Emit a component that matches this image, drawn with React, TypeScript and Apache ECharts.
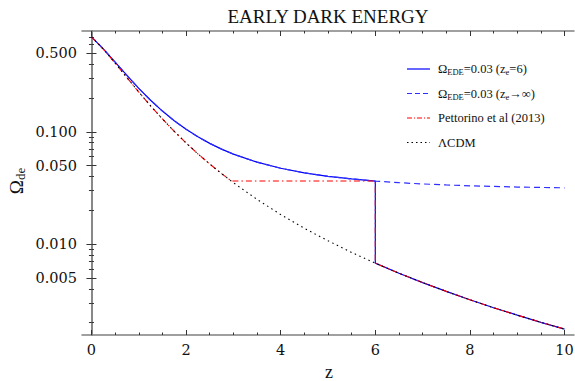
import React, { useEffect, useRef } from 'react';
import * as echarts from 'echarts';

// redshift grid
const zValues = [0, 0.25, 0.5, 0.75, 1, 1.25, 1.5, 1.75, 2, 2.25, 2.5, 2.75, 3, 3.5, 4, 4.5, 5, 5.5, 6, 6.5, 7, 7.5, 8, 8.5, 9, 9.5, 10];
// LambdaCDM dark-energy density
const lcdmValues = [0.700, 0.544, 0.409, 0.303, 0.226, 0.170, 0.130, 0.1009, 0.0795, 0.0636, 0.0516, 0.0424, 0.0352, 0.0250, 0.0183, 0.0138, 0.0107, 0.00842, 0.00676, 0.00550, 0.00454, 0.00379, 0.00319, 0.00271, 0.00233, 0.00201, 0.00175];
// Early dark energy (Omega_EDE = 0.03)
const edeValues = [0.700, 0.5476, 0.4175, 0.3171, 0.2436, 0.1908, 0.1528, 0.1253, 0.1052, 0.0901, 0.0788, 0.0700, 0.0632, 0.0536, 0.0473, 0.0431, 0.0401, 0.0380, 0.0364, 0.0352, 0.0343, 0.0336, 0.0330, 0.0326, 0.0322, 0.0319, 0.0317];
const transitionZ = 6;
const pettorinoStartZ = 2.96;
const pettorinoPlateau = 0.0364;

const xMajorTicks = [0, 2, 4, 6, 8, 10];
const xMinorTicks = [0.5, 1, 1.5, 2.5, 3, 3.5, 4.5, 5, 5.5, 6.5, 7, 7.5, 8.5, 9, 9.5];
const yMajorTicks = [0.005, 0.01, 0.05, 0.1, 0.5];
const yMinorTicks = [0.002, 0.003, 0.004, 0.006, 0.007, 0.008, 0.009, 0.02, 0.03, 0.04, 0.06, 0.07, 0.08, 0.09, 0.2, 0.3, 0.4, 0.6, 0.7];

const titleText = 'EARLY DARK ENERGY';
const legendTexts = [
  '{m|Ω}{s|EDE}{m|=0.03 (z}{s|e}{m|=6)}',
  '{m|Ω}{s|EDE}{m|=0.03 (z}{s|e}{m|→∞)}',
  '{m|Pettorino et al (2013)}',
  '{m|ΛCDM}',
];

const SERIF = "'Liberation Serif', serif";
const TICKFONT = "'DejaVu Serif', serif";
const FRAME = '#808080';

export default function App() {
  const ref = useRef<HTMLDivElement>(null);
  useEffect(() => {
    if (!ref.current) return;
    const chart = echarts.init(ref.current, null, { renderer: 'svg' });

    const pairs = zValues.map((z, i) => ({ z, l: lcdmValues[i], e: edeValues[i] }));
    const lcdmAt6 = pairs.find((p) => p.z === transitionZ)!.l;

    const solidData: number[][] = [];
    pairs.forEach((p) => { if (p.z <= transitionZ) solidData.push([p.z, p.e]); });
    solidData.push([transitionZ, lcdmAt6]);
    pairs.forEach((p) => { if (p.z > transitionZ) solidData.push([p.z, p.l]); });

    const dashedData = pairs.map((p) => [p.z, p.e]);

    const pettData: number[][] = [];
    pairs.forEach((p) => { if (p.z < pettorinoStartZ) pettData.push([p.z, p.l]); });
    pettData.push([pettorinoStartZ, pettorinoPlateau]);
    pettData.push([transitionZ, pettorinoPlateau]);
    pettData.push([transitionZ, lcdmAt6]);
    pairs.forEach((p) => { if (p.z > transitionZ) pettData.push([p.z, p.l]); });

    const lcdmData = pairs.map((p) => [p.z, p.l]);

    const xBase = { type: 'value', min: -0.2, max: 10.2, splitLine: { show: false } };
    const yBase = { type: 'log', logBase: 10, min: 0.00155, max: 0.789, splitLine: { show: false } };
    const majorTick = (vals: number[]) => ({ show: true, inside: true, length: 5, customValues: vals, lineStyle: { color: '#333', width: 1 } });
    const minorTick = (vals: number[]) => ({ show: true, inside: true, length: 2.5, customValues: vals, lineStyle: { color: '#333', width: 1 } });
    const frameLine = { show: true, lineStyle: { color: FRAME, width: 1.5 } };

    const legendColors = [
      { color: '#0000ff', dash: null as any },
      { color: '#2f2fff', dash: [5, 3] },
      { color: '#ff0000', dash: [5, 2, 1, 2] },
      { color: '#000000', dash: [1.5, 3] },
    ];
    const legendRowsY = [69, 93.5, 118, 142.5];

    const graphics: any[] = [
      {
        type: 'text', x: 328, y: 16,
        style: { text: titleText, fontFamily: SERIF, fontSize: 19, fill: '#111', align: 'center', verticalAlign: 'middle' },
      },
      {
        type: 'text', x: 16, y: 181, rotation: Math.PI / 2,
        style: {
          text: '{m|Ω}{s|de}', align: 'center', verticalAlign: 'middle', fill: '#111',
          rich: {
            m: { fontFamily: SERIF, fontSize: 19, fill: '#111' },
            s: { fontFamily: SERIF, fontSize: 13, fill: '#111', padding: [9, 0, 0, 0] },
          },
        },
      },
      {
        type: 'text', x: 329, y: 372,
        style: { text: 'z', fontFamily: SERIF, fontSize: 18, fill: '#111', align: 'center', verticalAlign: 'middle' },
      },
    ];
    legendTexts.forEach((t, i) => {
      const y = legendRowsY[i];
      graphics.push({
        type: 'line',
        shape: { x1: 407, y1: y, x2: 430, y2: y },
        style: { stroke: legendColors[i].color, lineWidth: 1.2, lineDash: legendColors[i].dash || undefined },
      });
      graphics.push({
        type: 'text', x: 438, y,
        style: {
          text: t, align: 'left', verticalAlign: 'middle', fill: '#111',
          rich: {
            m: { fontFamily: SERIF, fontSize: 12.5, fill: '#111' },
            s: { fontFamily: SERIF, fontSize: 8.5, fill: '#111', padding: [6, 0, 0, 0] },
          },
        },
      });
    });

    chart.setOption({
      animation: false,
      backgroundColor: '#ffffff',
      grid: { left: 82, right: 1, top: 31, bottom: 46, containLabel: false, outerBoundsMode: 'none' },
      xAxis: [
        { ...xBase, position: 'bottom', axisLine: frameLine, axisTick: majorTick(xMajorTicks),
          axisLabel: { show: true, customValues: xMajorTicks, margin: 7, fontFamily: TICKFONT, fontSize: 14.5, color: '#111' } },
        { ...xBase, position: 'bottom', axisLine: { show: false }, axisTick: minorTick(xMinorTicks), axisLabel: { show: false } },
        { ...xBase, position: 'top', axisLine: frameLine, axisTick: majorTick(xMajorTicks), axisLabel: { show: false } },
        { ...xBase, position: 'top', axisLine: { show: false }, axisTick: minorTick(xMinorTicks), axisLabel: { show: false } },
      ],
      yAxis: [
        { ...yBase, position: 'left', axisLine: frameLine, axisTick: majorTick(yMajorTicks),
          axisLabel: { show: true, customValues: yMajorTicks, margin: 5, fontFamily: TICKFONT, fontSize: 14.5, color: '#111',
            formatter: (v: number) => Number(v).toFixed(3) } },
        { ...yBase, position: 'left', axisLine: { show: false }, axisTick: minorTick(yMinorTicks), axisLabel: { show: false } },
        { ...yBase, position: 'right', axisLine: frameLine, axisTick: majorTick(yMajorTicks), axisLabel: { show: false } },
        { ...yBase, position: 'right', axisLine: { show: false }, axisTick: minorTick(yMinorTicks), axisLabel: { show: false } },
      ],
      series: [
        { name: 'ede6', type: 'line', data: solidData, showSymbol: false, symbol: 'none', xAxisIndex: 0, yAxisIndex: 0,
          lineStyle: { color: '#0000ff', width: 1.2 } },
        { name: 'edeInf', type: 'line', data: dashedData, showSymbol: false, symbol: 'none', xAxisIndex: 0, yAxisIndex: 0,
          lineStyle: { color: '#2f2fff', width: 1.2, type: [6, 4] } },
        { name: 'pett', type: 'line', data: pettData, showSymbol: false, symbol: 'none', xAxisIndex: 0, yAxisIndex: 0,
          lineStyle: { color: '#ff0000', width: 1.1, type: [6, 3, 1.5, 3] } },
        { name: 'lcdm', type: 'line', data: lcdmData, showSymbol: false, symbol: 'none', xAxisIndex: 0, yAxisIndex: 0,
          lineStyle: { color: '#000000', width: 1.1, type: [1.5, 3.5] } },
      ],
      graphic: graphics,
    });
    return () => chart.dispose();
  }, []);
  return <div ref={ref} style={{ position: 'fixed', left: 0, top: 0, width: 575, height: 381 }} />;
}
